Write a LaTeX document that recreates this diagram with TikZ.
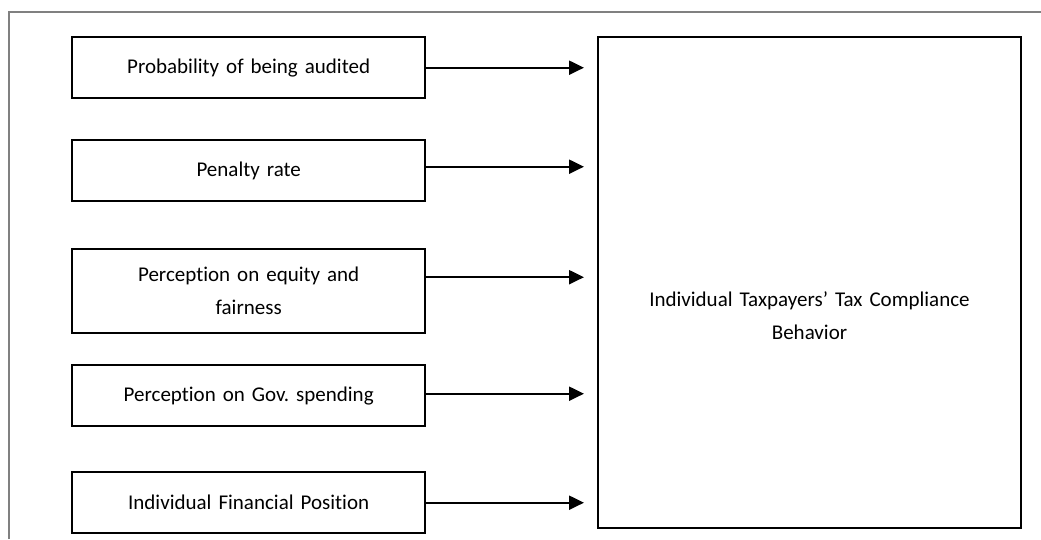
\documentclass[tikz,border=0pt]{standalone}
\usepackage{fontspec}
\setmainfont{Carlito}[Ligatures=NoCommon]
\usepackage{tikz}
\usetikzlibrary{arrows.meta}

\begin{document}
\begin{tikzpicture}[x=1pt,y=-1pt,
    block_left/.style ={rectangle, draw=black, line width=2pt, fill=white,
      text width=300pt, text centered,
      minimum width=353pt, minimum height=61pt,
      font=\fontsize{21}{33}\selectfont},
    block_big/.style ={rectangle, draw=black, line width=2pt, fill=white,
      minimum width=423pt, minimum height=491pt},
    block_text/.style ={text width=400pt, text centered,
      font=\fontsize{21}{33}\selectfont},
    line/.style ={draw, line width=2.2pt, -{Triangle[length=15pt,width=14pt]},
      shorten >=13pt}]
    \useasboundingbox (0,0) rectangle (1041,539);
    % frame round the figure
    \draw[gray, line width=1.3pt] (9,539) -- (9,12) -- (1041,12);
    % the five factors, one per row
    \matrix [row sep=40pt, inner sep=0pt, anchor=north west] at (71,36) {
      % row 1
      \node [block_left] (audit) {Probability of being audited};\\
      % row 2
      \node [block_left] (penalty) {Penalty rate};\\[6pt]
      % row 3
      \node [block_left, minimum height=84pt] (equity) {Perception on equity and\\fairness};\\[-10pt]
      % row 4
      \node [block_left] (spending) {Perception on Gov.\ spending};\\[4pt]
      % row 5
      \node [block_left] (finpos) {Individual Financial Position};\\
    };% end matrix
    % the outcome
    \node [block_big] (behav) at (809.5,282.5) {};
    \node [block_text] (behavtext) at ([yshift=-33pt]behav.center)
      {Individual Taxpayers’ Tax Compliance\\Behavior};
    % connecting nodes with paths
    \begin{scope}[every path/.style=line]
     \path (audit.east) -- (audit.east -| behav.west);
     \path ([yshift=4pt]penalty.east) -- ([yshift=4pt]penalty.east -| behav.west);
     \path ([yshift=14pt]equity.east) -- ([yshift=14pt]equity.east -| behav.west);
     \path ([yshift=2pt]spending.east) -- ([yshift=2pt]spending.east -| behav.west);
     \path (finpos.east) -- (finpos.east -| behav.west);
    \end{scope}
\end{tikzpicture}
\end{document}
